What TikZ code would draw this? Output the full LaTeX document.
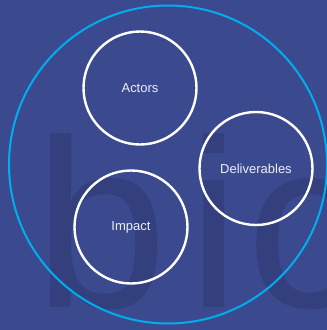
\documentclass[tikz,border=0pt]{standalone}
\usepackage{fontspec}
\setmainfont{Liberation Sans}
\definecolor{bgblue}{RGB}{59,74,143}
\definecolor{markblue}{RGB}{52,64,126}
\definecolor{ringcyan}{RGB}{0,174,239}
\definecolor{labelwhite}{RGB}{236,238,246}
\begin{document}
\begin{tikzpicture}[
  x=1pt, y=-1pt,
  mark letter/.style={anchor=base west, inner sep=0pt, text=markblue,
    font=\fontsize{240}{240}\selectfont},
  part/.style={circle, draw=white, line width=2.4pt, minimum size=113pt,
    inner sep=0pt, text=labelwhite, font=\fontsize{13}{15}\selectfont}
]
  \useasboundingbox (0,0) rectangle (327,330);
  \clip (0,0) rectangle (327,330);
  \fill[bgblue] (0,0) rectangle (327,330);

  % watermark letters
  \node[mark letter] (wb) at (34, 307) {b};
  \node[mark letter] (wi) at (187, 307) {i};
  \node[mark letter] (wc) at (246, 307) {c};

  \node[circle, draw=ringcyan, line width=2pt, minimum size=318pt] (scope) at (168, 164.5) {};

  \node[part] (actors) at (140, 88) {Actors};
  \node[part] (deliverables) at (256, 168.5) {Deliverables};
  \node[part] (impact) at (131, 227) {Impact};
\end{tikzpicture}
\end{document}
